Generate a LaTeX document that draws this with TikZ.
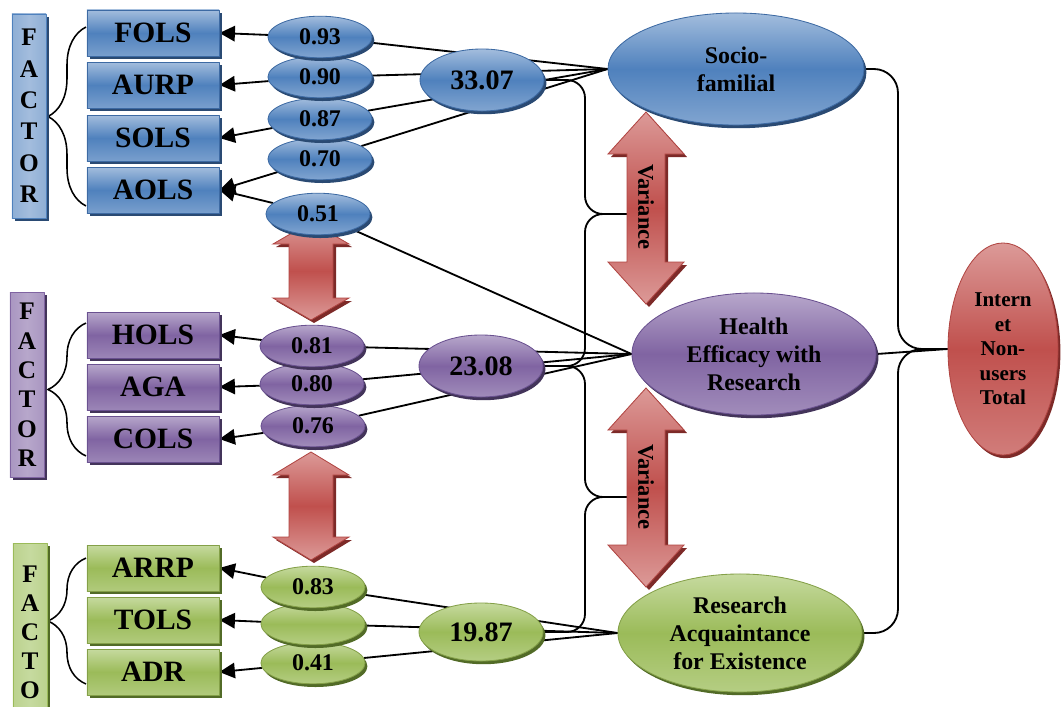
\documentclass[tikz,border=0pt]{standalone}
\usepackage{fontspec}
\setmainfont{Liberation Serif}
\usetikzlibrary{shapes.geometric,shadows,backgrounds,arrows.meta,decorations.pathreplacing}
\definecolor{bluL}{HTML}{A3BDDD}
\definecolor{bluM}{HTML}{4F81BD}
\definecolor{bluD}{HTML}{3D6AA3}
\definecolor{bluS}{HTML}{2A4A73}
\definecolor{purL}{HTML}{B7A7CB}
\definecolor{purM}{HTML}{8064A2}
\definecolor{purD}{HTML}{6A5190}
\definecolor{purS}{HTML}{43345A}
\definecolor{grnL}{HTML}{C6DA9F}
\definecolor{grnM}{HTML}{9BBB59}
\definecolor{grnD}{HTML}{84A048}
\definecolor{grnS}{HTML}{526B27}
\definecolor{redL}{HTML}{DC9A98}
\definecolor{redM}{HTML}{C0504D}
\definecolor{redD}{HTML}{B04542}
\definecolor{redS}{HTML}{7D2A28}
\begin{document}
\begin{tikzpicture}[x=.025cm,y=-.025cm,line join=round,
	>={Triangle[length=11pt,width=11pt]},
	obsbox/.style={draw=#1D,line width=.6pt,top color=#1L,bottom color=#1L!50!#1M,middle color=#1M,
		minimum width=3.3cm,minimum height=1.15cm,inner sep=0pt,font=\bfseries\fontsize{21}{23}\selectfont,
		drop shadow={shadow xshift=.07cm,shadow yshift=-.07cm,fill=#1S,opacity=1}},
	factbar/.style={draw=#1M,line width=.6pt,left color=#1L!75!#1M,right color=#1L!75!#1M,middle color=#1L,
		minimum width=.85cm,inner sep=0pt,align=center,
		drop shadow={shadow xshift=.07cm,shadow yshift=-.07cm,fill=#1S,opacity=1}},
	ellnode/.style={ellipse,draw=#1D,line width=.6pt,top color=#1L,bottom color=#1L!60!#1M,middle color=#1M,
		inner sep=0pt,drop shadow={shadow xshift=.06cm,shadow yshift=-.08cm,fill=#1S,opacity=1}},
	loadell/.style={ellnode=#1,minimum width=2.6cm,minimum height=1.04cm,font=\bfseries\fontsize{17}{19}\selectfont},
	meanell/.style={ellnode=#1,minimum width=3.1cm,minimum height=1.55cm,font=\bfseries\fontsize{20}{22}\selectfont},
	latell/.style={ellnode=#1,align=center,font=\bfseries\fontsize{17}{20}\selectfont},
	varrow/.style={draw=redD,line width=.6pt,top color=redL,bottom color=redL,middle color=redM},
	vartext/.style={rotate=-90,font=\bfseries\fontsize{16}{18}\selectfont},
	brc/.style={decorate,decoration={brace,amplitude=.95cm},line width=1.1pt}]
	\useasboundingbox (0,0) rectangle (1061,706);
	% factor bars
	\node[factbar=blu,minimum height=5.1cm,font=\bfseries\fontsize{18}{22.3}\selectfont] (fbarB) at (29,116) {F\\A\\C\\T\\O\\R};
	\node[factbar=pur,minimum height=4.63cm,font=\bfseries\fontsize{18}{20.9}\selectfont] (fbarP) at (27,385) {F\\A\\C\\T\\O\\R};
	\node[factbar=grn,minimum height=4.43cm,font=\bfseries\fontsize{18}{20.6}\selectfont,anchor=north] (fbarG) at (30,543) {F\\A\\C\\T\\O};
	% observed
	\node[obsbox=blu] (fols) at (153,33) {FOLS};
	\node[obsbox=blu] (aurp) at (153,85) {AURP};
	\node[obsbox=blu] (sols) at (153,138) {SOLS};
	\node[obsbox=blu] (aols) at (153,190) {AOLS};
	\node[obsbox=pur] (hols) at (153,335) {HOLS};
	\node[obsbox=pur] (aga) at (153,387) {AGA};
	\node[obsbox=pur] (cols) at (153,439) {COLS};
	\node[obsbox=grn] (arrp) at (153,568) {ARRP};
	\node[obsbox=grn] (tols) at (153,620) {TOLS};
	\node[obsbox=grn] (adr) at (153,672) {ADR};
	% loadings
	\node[loadell=blu] (l51) at (318,214) {0.51};
	\node[loadell=blu] (l70) at (320,159) {0.70};
	\node[loadell=blu] (l87) at (320,119) {0.87};
	\node[loadell=blu] (l90) at (320,77) {0.90};
	\node[loadell=blu] (l93) at (320,37) {0.93};
	\node[loadell=pur] (l76) at (313,426) {0.76};
	\node[loadell=pur] (l80) at (312,384) {0.80};
	\node[loadell=pur] (l81) at (312,346) {0.81};
	\node[loadell=grn] (l41) at (313,663) {0.41};
	\node[loadell=grn] (lto) at (313,624) {};
	\node[loadell=grn] (l83) at (313,587) {0.83};
	% means
	\node[meanell=blu] (m1) at (482,80) {33.07};
	\node[meanell=pur] (m2) at (481,366) {23.08};
	\node[meanell=grn,minimum height=1.45cm] (m3) at (481,632) {19.87};
	% latent
	\node[latell=blu,minimum width=6.4cm,minimum height=2.8cm] (socio) at (736,69) {Socio-\\familial};
	\node[latell=pur,minimum width=6.1cm,minimum height=3.05cm] (health) at (754,354) {Health\\Efficacy with\\Research};
	\node[latell=grn,minimum width=6.1cm,minimum height=2.95cm] (research) at (740,633) {Research\\Acquaintance\\for Existence};
	\node[latell=red,minimum width=2.75cm,minimum height=5.3cm,font=\bfseries\fontsize{15}{17.4}\selectfont] (inet) at (1003,349) {Intern\\et\\Non-\\users\\Total};
	\node[vartext] (var1) at (646,207) {Variance};
	\node[vartext] (var2) at (646,487) {Variance};
	\coordinate (v1) at (627,214);
	\coordinate (v2) at (627,497);
	\coordinate (bB1) at (86,27);  \coordinate (bB2) at (86,206);
	\coordinate (bP1) at (86,323); \coordinate (bP2) at (86,456);
	\coordinate (bG1) at (86,558); \coordinate (bG2) at (86,684);
	\begin{pgfonlayer}{background}
	\begin{scope}[line width=1.3pt]
	\draw[brc] (bB2) -- (bB1);
	\draw[brc] (bP2) -- (bP1);
	\draw[brc] (bG2) -- (bG1);
	\draw[->] (l93) -- (fols.east);
	\draw[->] (l90) -- (aurp.east);
	\draw[->] (l87) -- (sols.east);
	\draw[->] (l70) -- (aols.east);
	\draw[->] (l51) -- (aols.east);
	\draw[->] (l81) -- (hols.east);
	\draw[->] (l80) -- (aga.east);
	\draw[->] (l76) -- (cols.east);
	\draw[->] (l83) -- (arrp.east);
	\draw[->] (lto) -- (tols.east);
	\draw[->] (l41) -- (adr.east);
	\foreach \n in {l93,l90,l87,l70} \draw (\n) -- (socio.west);
	\foreach \n in {l51,l81,l80,l76} \draw (\n) -- (health.west);
	\foreach \n in {l83,lto,l41} \draw (\n) -- (research.west);
	\draw[rounded corners=.45cm] (m1.east) -| (585,214) -- (v1);
	\draw[rounded corners=.45cm] (m2.east) -| (585,214) -- (v1);
	\draw[rounded corners=.45cm] (m2.east) -| (585,497) -- (v2);
	\draw[rounded corners=.45cm] (m3.east) -| (585,497) -- (v2);
	\draw[rounded corners=.6cm] (socio.east) -| (898,349) -- (inet.west);
	\draw[rounded corners=.6cm] (research.east) -| (898,349) -- (inet.west);
	\draw (health.east) -- (inet.west);
	\end{scope}
	% variance arrows
	\foreach \xa/\ya/\yb/\hw/\sw/\hl in {646/112/304/38/19/42,646/388/587/38/19/42,311/222/320/38/22/22,311/452/560/38/22/23}{
		\fill[redS,shift={(3,3)}] (\xa-\sw,\yb-\hl) -- (\xa-\hw,\yb-\hl) -- (\xa,\yb) -- (\xa+\hw,\yb-\hl) -- (\xa+\sw,\yb-\hl)
		-- (\xa+\sw,\ya+\hl) -- (\xa+\hw,\ya+\hl) -- (\xa,\ya) -- (\xa-\hw,\ya+\hl) -- (\xa-\sw,\ya+\hl) -- cycle;
		\path[varrow] (\xa-\sw,\yb-\hl) -- (\xa-\hw,\yb-\hl) -- (\xa,\yb) -- (\xa+\hw,\yb-\hl) -- (\xa+\sw,\yb-\hl)
		-- (\xa+\sw,\ya+\hl) -- (\xa+\hw,\ya+\hl) -- (\xa,\ya) -- (\xa-\hw,\ya+\hl) -- (\xa-\sw,\ya+\hl) -- cycle;
	}
	\end{pgfonlayer}
\end{tikzpicture}
\end{document}
